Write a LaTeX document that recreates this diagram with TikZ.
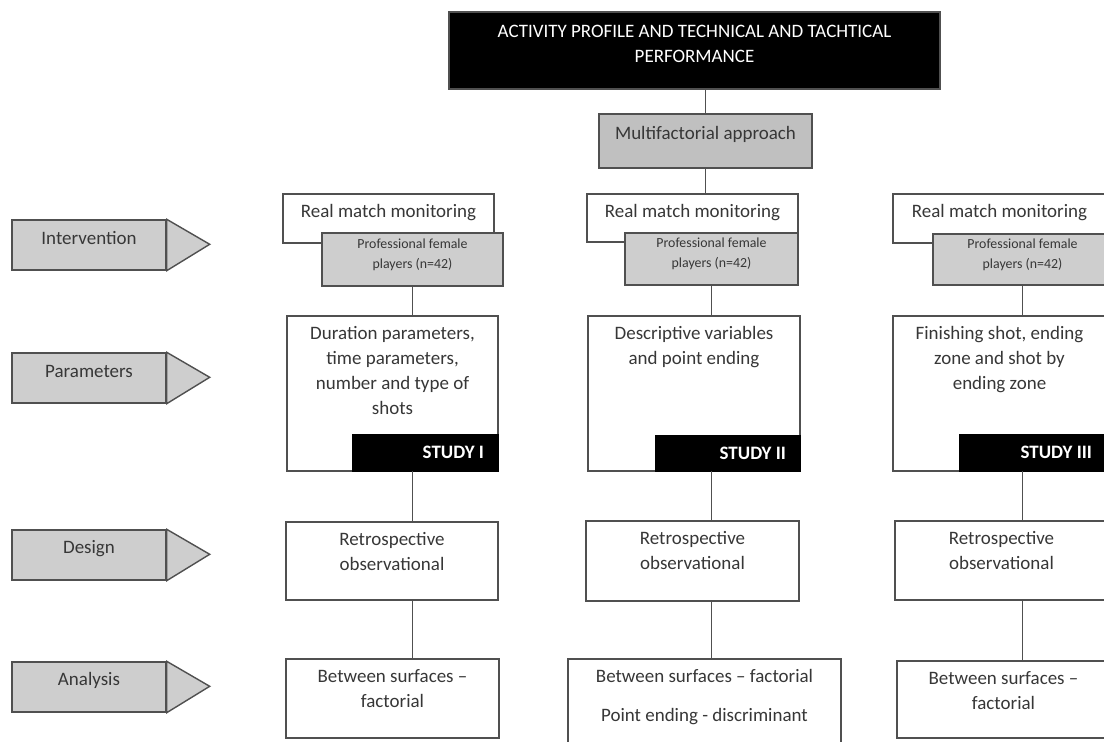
\documentclass[tikz,border=0pt]{standalone}
\usepackage{fontspec}
\setmainfont{Carlito}
\usepackage{tikz}
\usetikzlibrary{positioning,fit}
\definecolor{framegrey}{RGB}{80,80,80}
\definecolor{textgrey}{RGB}{55,55,55}
\definecolor{fillgrey}{RGB}{206,206,206}
\definecolor{approachgrey}{RGB}{192,192,192}

\begin{document}
\begin{tikzpicture}[
    x=0.02cm, y=-0.02cm,
    every node/.style={font=\fontsize{10.8}{14.2}\selectfont, text=textgrey},
    box/.style={draw=framegrey, line width=0.8pt, fill=white, inner sep=0pt, align=center},
    greybox/.style={box, fill=fillgrey, font=\fontsize{7.9}{11.3}\selectfont},
    studybox/.style={draw=black, fill=black, inner sep=0pt},
    txt/.style={inner sep=0pt, align=center},
    studytxt/.style={txt, text=white, font=\fontsize{10.8}{14.2}\selectfont\bfseries},
    stage/.style={draw=framegrey, line width=0.8pt, fill=fillgrey, inner sep=0pt},
    link/.style={draw=framegrey, line width=0.8pt}
]
\clip (0,0) rectangle (1104,742);

% top of the tree
\node[box, fill=black, text=white, fit={(449,12) (940,89)}] (title)
    {ACTIVITY PROFILE AND TECHNICAL AND TACHTICAL\\PERFORMANCE};
\node[box, fill=approachgrey, fit={(599,114) (812,168)}] (multi) {Multifactorial approach};

% stages on the left
\foreach \nm/\lbl/\ty in {interv/Intervention/220, param/Parameters/353, design/Design/530, anal/Analysis/662} {
    \node[stage, fit={(12,\ty) (166,\ty+50)}] (\nm) {\lbl};
    \filldraw[stage] (\nm.north east) -- ++(43,25) -- (\nm.south east) -- cycle;
}

% study I
\node[box, fit={(283,194) (494,243)}] (real1) {};
\node[txt, below=6pt of real1.north] (real1txt) {Real match monitoring};
\node[greybox, fit={(322,233) (503,286)}] (players1) {Professional female\\players (n=42)};
\node[box, fit={(287,316) (498,471)}] (params1) {};
\node[txt, below=6pt of params1.north] (params1txt)
    {Duration parameters,\\time parameters,\\number and type of\\shots};
\node[studybox, fit={(352,434) (498,471)}] (study1) {};
\node[studytxt, left=8pt of study1.east] (study1txt) {STUDY I};
\node[box, fit={(286,522) (498,600)}] (design1) {};
\node[txt, below=6pt of design1.north] (design1txt) {Retrospective\\observational};
\node[box, fit={(286,659) (499,738)}] (analysis1) {};
\node[txt, below=6pt of analysis1.north] (analysis1txt) {Between surfaces --\\factorial};

% study II
\node[box, fit={(587,194) (798,242)}] (real2) {};
\node[txt, below=6pt of real2.north] (real2txt) {Real match monitoring};
\node[greybox, fit={(625,233) (798,285)}] (players2) {Professional female\\players (n=42)};
\node[box, fit={(588,316) (800,471)}] (params2) {};
\node[txt, below=6pt of params2.north] (params2txt) {Descriptive variables\\and point ending};
\node[studybox, fit={(655,435) (800,471)}] (study2) {};
\node[studytxt, left=8pt of study2.east] (study2txt) {STUDY II};
\node[box, fit={(586,521) (799,601)}] (design2) {};
\node[txt, below=6pt of design2.north] (design2txt) {Retrospective\\observational};
\node[box, fit={(568,659) (841,760)}] (analysis2) {};
\node[txt, below=6pt of analysis2.north] (analysis2txt)
    {Between surfaces -- factorial\\[8pt]Point ending - discriminant};

% study III
\node[box, fit={(893,194) (1106,243)}] (real3) {};
\node[txt, below=6pt of real3.north] (real3txt) {Real match monitoring};
\node[greybox, fit={(933,234) (1112,285)}] (players3) {Professional female\\players (n=42)};
\node[box, fit={(893,316) (1106,471)}] (params3) {};
\node[txt, below=6pt of params3.north] (params3txt)
    {Finishing shot, ending\\zone and shot by\\ending zone};
\node[studybox, fit={(959,434) (1106,471)}] (study3) {};
\node[studytxt, left=8pt of study3.east] (study3txt) {STUDY III};
\node[box, fit={(895,521) (1108,600)}] (design3) {};
\node[txt, below=6pt of design3.north] (design3txt) {Retrospective\\observational};
\node[box, fit={(897,661) (1110,738)}] (analysis3) {};
\node[txt, below=6pt of analysis3.north] (analysis3txt) {Between surfaces --\\factorial};

% connectors
\draw[link] (multi.north |- title.south) -- (multi.north);
\draw[link] (multi.south) -- (multi.south |- real2.north);
\foreach \c in {1,2,3} {
    \draw[link] (players\c.south) -- (players\c.south |- params\c.north);
    \draw[link] (players\c.south |- study\c.south) -- (players\c.south |- design\c.north);
    \draw[link] (players\c.south |- design\c.south) -- (players\c.south |- analysis\c.north);
}

\end{tikzpicture}
\end{document}
